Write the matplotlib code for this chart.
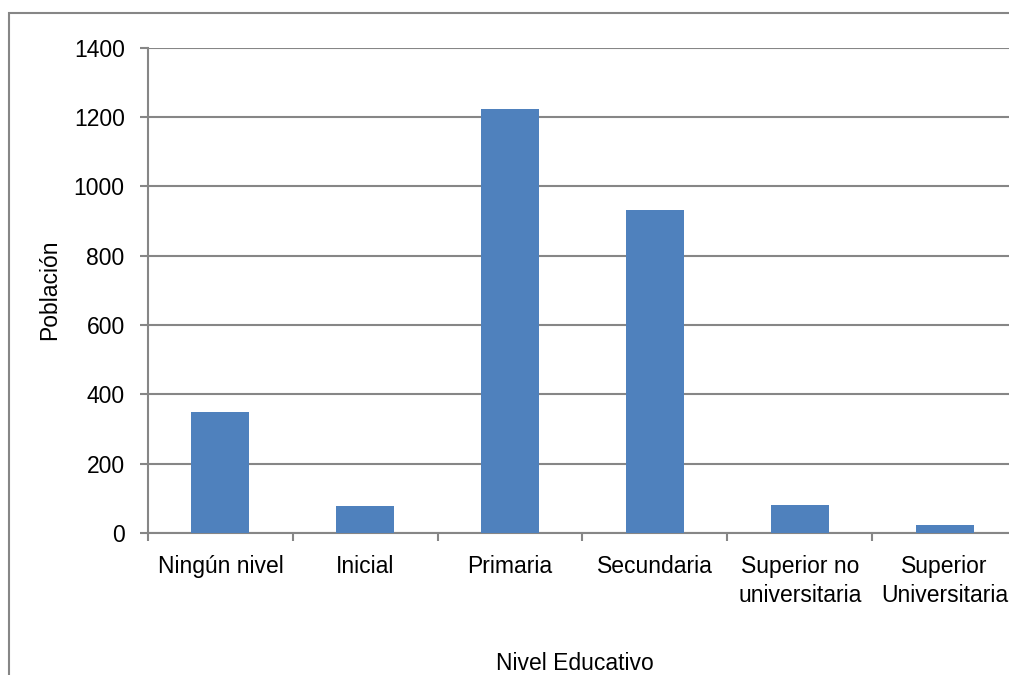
import matplotlib
matplotlib.use("Agg")
import matplotlib.pyplot as plt
from matplotlib.patches import Rectangle
from matplotlib.ticker import FixedLocator, NullFormatter

plt.rcParams['font.family'] = ['Liberation Sans Narrow', 'Liberation Sans', 'DejaVu Sans']

categorias = ["Ningún nivel", "Inicial", "Primaria", "Secundaria",
              "Superior no\nuniversitaria", "Superior\nUniversitaria"]
poblacion = [350, 78, 1222, 932, 80, 23]
y_ticks = [0, 200, 400, 600, 800, 1000, 1200, 1400]

W, H = 1009, 675
fig = plt.figure(figsize=(W / 100, H / 100), dpi=100)

gris = "#868686"
azul = "#4f81bd"

# outer chart frame (extends past the right and bottom edges)
fig.patches.append(Rectangle((9 / W, -0.1), 1.2, 1 - 13 / H + 0.1,
                             transform=fig.transFigure, fill=False,
                             edgecolor=gris, linewidth=1.5))

ax = fig.add_axes([148 / W, (H - 533) / H, (1017 - 148) / W, (533 - 47.7) / H])
x = list(range(len(categorias)))
ax.bar(x, poblacion, width=0.40, color=azul, zorder=3)

ax.set_xlim(-0.5, len(categorias) - 0.5)
ax.set_ylim(0, 1400)
ax.set_yticks(y_ticks)
ax.yaxis.grid(True, color=gris, linewidth=1.5, zorder=0)
ax.set_axisbelow(True)

for s in ("top", "right"):
    ax.spines[s].set_visible(False)
for s in ("left", "bottom"):
    ax.spines[s].set_color(gris)
    ax.spines[s].set_linewidth(1.5)

ax.xaxis.set_major_locator(FixedLocator([i - 0.5 for i in range(len(categorias) + 1)]))
ax.xaxis.set_major_formatter(NullFormatter())
ax.xaxis.set_minor_locator(FixedLocator(x))
ax.set_xticklabels(categorias, minor=True)
ax.tick_params(axis="x", which="major", length=6, width=1.5, color=gris, direction="out")
ax.tick_params(axis="x", which="minor", length=0, pad=16, labelsize=16.5)
ax.tick_params(axis="y", length=5.8, width=1.5, color=gris, direction="out", labelsize=16.5, pad=11)

for lbl in ax.get_xticklabels(minor=True):
    lbl.set_linespacing(1.3)

fig.text(575 / W, 1 - 664 / H, "Nivel Educativo", ha="center", va="center", fontsize=16.5)
fig.text(50 / W, 1 - 290 / H, "Población", ha="center", va="center", rotation=90, fontsize=16.5)

fig.savefig("out.png", dpi=100)
